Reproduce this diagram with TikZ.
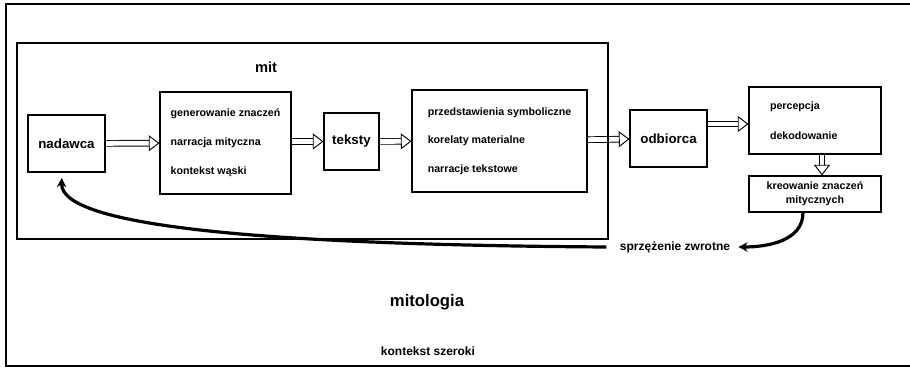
\documentclass[tikz,border=0pt]{standalone}
\usepackage{fontspec}
\setmainfont{Liberation Sans}
\usepackage{tikz}
\usetikzlibrary{arrows.meta}
\pgfdeclarelayer{bg}
\pgfsetlayers{bg,main}
\tikzset{
    every node/.style={inner sep=1pt, font=\bfseries},
    box/.style={draw, rectangle, line width=0.8pt, align=left},
    bigbox/.style={box, font=\bfseries\fontsize{10}{12}\selectfont},
    listbox/.style={box, font=\bfseries\fontsize{8}{21.75}\selectfont},
    dbl/.style={draw=white, line width=0.7pt,
        -{Triangle[open, fill=white, color=black, length=8pt, width=12pt]},
        preaction={draw=black, line width=5pt, shorten >=7.5pt, -},
        preaction={draw=white, line width=3.6pt, shorten >=7pt, -}},
    feedback/.style={line width=2.4pt, -{Stealth[length=7pt, width=7pt]}},
    frame/.style={line width=1.5pt}
}

\begin{document}
\begin{tikzpicture}[x=0.75pt, y=-0.75pt]
        \useasboundingbox (0,0) rectangle (910,370);
        \draw[frame] (910,4) -- (6,4) -- (6,366) -- (910,366);
        \draw[frame] (17,43) rectangle (608,239);
        \node (mit) [font=\bfseries\fontsize{11}{13}\selectfont] at (266,67) {mit};
        \node (v0) [bigbox, minimum width=57.75pt, minimum height=42.75pt] at (66.5,143.5) {nadawca};
        \node (v1) [listbox, minimum width=98.25pt, minimum height=76.5pt] at (225.5,143) {generowanie znaczeń\\narracja mityczna\\kontekst wąski};
        \node (v2) [bigbox, minimum width=41.25pt, minimum height=42.75pt] at (351.5,141.5) {teksty};
        \node (v3) [listbox, minimum width=131.25pt, minimum height=76.5pt,
                font=\bfseries\fontsize{8}{21.4}\selectfont] at (499.5,141) {przedstawienia symboliczne\\korelaty materialne\\narracje tekstowe};
        \node (v4) [bigbox, minimum width=57.75pt, minimum height=42.75pt] at (668.5,138.5) {odbiorca};
        \node (v5) [listbox, minimum height=50.25pt, text width=67.5pt, inner xsep=15.75pt,
                font=\bfseries\fontsize{8}{22.5}\selectfont] at (815,120.5) {percepcja\\dekodowanie};
        \node (v6) [box, align=center, minimum width=99pt, minimum height=27pt,
                font=\bfseries\fontsize{8}{10.5}\selectfont] at (815,194) {kreowanie znaczeń\\mitycznych};
        \node (fb) [inner sep=3pt, font=\bfseries\fontsize{9}{11}\selectfont] at (675,247) {sprzężenie zwrotne};
        \node (mitologia) [font=\bfseries\fontsize{12.5}{15}\selectfont] at (427,302) {mitologia};
        \node (ctx) [font=\bfseries\fontsize{9}{11}\selectfont] at (428,351) {kontekst szeroki};
        \begin{pgfonlayer}{bg}
                \draw[dbl] (v0) -- (v1);
                \draw[dbl] (v1.east |- v2) -- (v2);
                \draw[dbl] (v2) -- (v3);
                \draw[dbl] (v3) -- (v4);
                \draw[dbl] ([yshift=10.9pt]v4.east) -- ([yshift=10.9pt]v4.east -| v5.west);
                \draw[dbl] ([xshift=5.25pt]v5.south) -- ([xshift=5.25pt]v6.north);
                \draw[feedback] ([xshift=-9pt]v6.south) to[out=-90, in=0] ([xshift=3pt]fb.east);
                \draw[feedback] ([xshift=-7pt]fb.west) .. controls (300,245) and (60,230) .. ([xshift=-3.5pt, yshift=-4pt]v0.south);
        \end{pgfonlayer}
\end{tikzpicture}
\end{document}
